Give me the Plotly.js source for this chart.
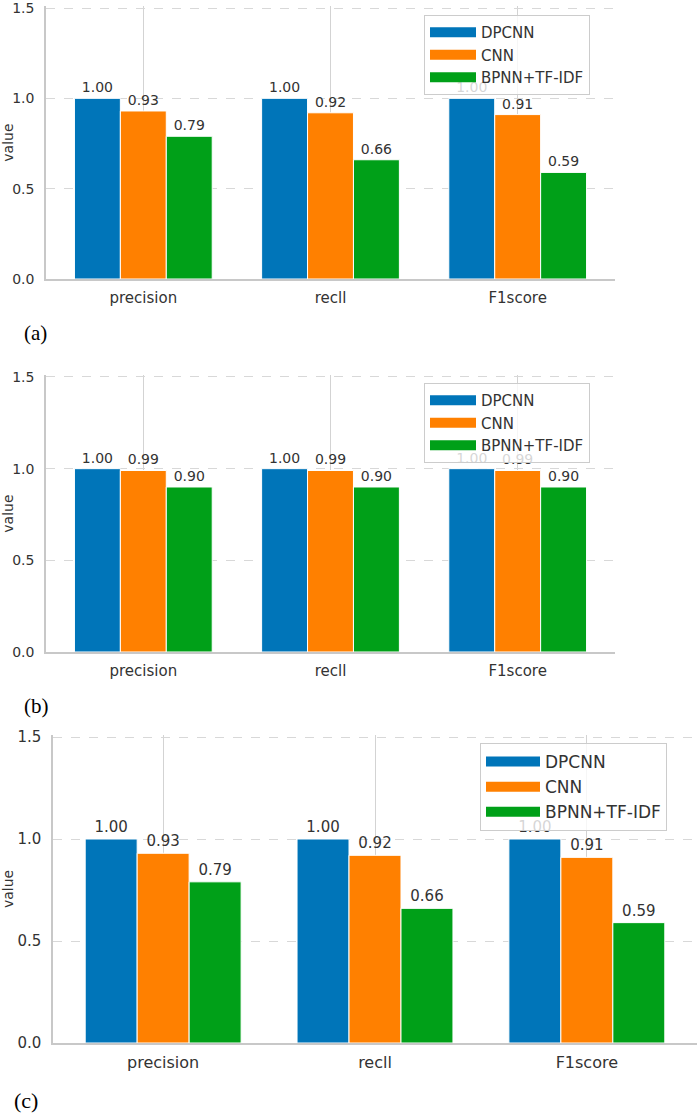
<!DOCTYPE html>
<html>
<head>
<meta charset="utf-8">
<script src="https://cdn.plot.ly/plotly-3.0.1.min.js"></script>
<style>
html,body{margin:0;padding:0;background:#fff;}
#chart{width:699px;height:1114px;}
</style>
</head>
<body>
<div id="chart"></div>
<script>
// ---- data ----
const categories = ["precision", "recll", "F1score"];
const seriesNames = ["DPCNN", "CNN", "BPNN+TF-IDF"];
const seriesColors = ["#0075b9", "#ff8000", "#00a018"];
// panel (a)
const dpcnnA = [1.00, 1.00, 1.00];
const cnnA   = [0.93, 0.92, 0.91];
const bpnnA  = [0.79, 0.66, 0.59];
// panel (b)
const dpcnnB = [1.00, 1.00, 1.00];
const cnnB   = [0.99, 0.99, 0.99];
const bpnnB  = [0.90, 0.90, 0.90];
// panel (c)
const dpcnnC = [1.00, 1.00, 1.00];
const cnnC   = [0.93, 0.92, 0.91];
const bpnnC  = [0.79, 0.66, 0.59];
const yTickVals = [0.0, 0.5, 1.0, 1.5];
const yTickText = ["0.0", "0.5", "1.0", "1.5"];
const panelLabels = ["(a)", "(b)", "(c)"];

const FONT = "DejaVu Sans, Liberation Sans, Arial, sans-serif";
const SERIF = "Liberation Serif, Times New Roman, serif";
const TXT = "#333333";
const H = 1114, W = 699;
const Y_MAX = 1.51;   // a hair above 1.5 so the top grid line is drawn

const panels = [
  {vals: [dpcnnA, cnnA, bpnnA], ax: "", legend: "legend", lab: 14},
  {vals: [dpcnnB, cnnB, bpnnB], ax: "2", legend: "legend2", lab: 14},
  {vals: [dpcnnC, cnnC, bpnnC], ax: "3", legend: "legend3", lab: 15}
];

const traces = [];
panels.forEach((p, pi) => {
  p.vals.forEach((v, si) => {
    traces.push({
      type: "bar",
      x: categories,
      y: v,
      name: seriesNames[si],
      xaxis: "x" + p.ax,
      yaxis: "y" + p.ax,
      marker: {color: seriesColors[si], line: {color: "#ffffff", width: 1}},
      text: v.map(d => d.toFixed(2)),
      textposition: "outside",
      constraintext: "none",
      cliponaxis: false,
      outsidetextfont: {family: FONT, size: p.lab, color: TXT},
      showlegend: false,
      hoverinfo: "x+y+name"
    });
  });
  // legend entries drawn as wide patches like the reference
  seriesNames.forEach((n, si) => {
    traces.push({
      type: "scatter",
      mode: "lines",
      x: [null],
      y: [null],
      name: n,
      xaxis: "x" + p.ax,
      yaxis: "y" + p.ax,
      line: {color: seriesColors[si], width: 10},
      legend: p.legend,
      showlegend: true,
      hoverinfo: "skip"
    });
  });
});

// pixel geometry -> paper domains
function yDomain(pix0, pix15) {
  const perUnit = (pix0 - pix15) / 1.5;
  const top = pix0 - Y_MAX * perUnit;
  return [1 - pix0 / H, 1 - top / H];
}

function xax(domain, anchor, fs) {
  return {
    domain: domain,
    anchor: anchor,
    type: "category",
    range: [-0.52, 2.52],
    showgrid: true,
    gridcolor: "#d3d3d3",
    gridwidth: 1,
    showline: true,
    linecolor: "#c8c8c8",
    linewidth: 1.5,
    ticks: "",
    ticklabelstandoff: 4,
    tickfont: {family: FONT, size: fs, color: TXT},
    zeroline: false,
    fixedrange: true
  };
}
function yax(domain, anchor, fs) {
  return {
    domain: domain,
    anchor: anchor,
    range: [0, Y_MAX],
    tickmode: "array",
    tickvals: yTickVals,
    ticktext: yTickText,
    showgrid: true,
    gridcolor: "#d8d8d8",
    griddash: "dash",
    gridwidth: 1,
    showline: true,
    linecolor: "#c8c8c8",
    linewidth: 1.5,
    zeroline: false,
    ticks: "",
    ticklabelstandoff: 7,
    ticklabeloverflow: "allow",
    tickfont: {family: FONT, size: fs, color: TXT},
    title: {text: "value", font: {family: FONT, size: 14, color: TXT}, standoff: 0},
    fixedrange: true
  };
}

const legendBase = {
  bgcolor: "rgba(255,255,255,0.8)",
  bordercolor: "#cccccc",
  borderwidth: 1,
  xanchor: "left",
  yanchor: "top",
  tracegroupgap: 0,
  itemclick: false,
  itemdoubleclick: false
};

const layout = {
  width: W,
  height: H,
  margin: {l: 0, r: 0, t: 0, b: 0},
  paper_bgcolor: "#ffffff",
  plot_bgcolor: "#ffffff",
  barmode: "group",
  bargap: 0.264,
  bargroupgap: 0,
  xaxis:  xax([46/W, 615/W], "y", 15),
  yaxis:  yax(yDomain(279, 8), "x", 14),
  xaxis2: xax([46/W, 615/W], "y2", 15),
  yaxis2: yax(yDomain(652, 377), "x2", 14),
  xaxis3: xax([53/W, 697/W], "y3", 16),
  yaxis3: yax(yDomain(1043, 737), "x3", 15),
  legend:  Object.assign({}, legendBase, {x: 424/W, y: 1-15/H, itemwidth: 46, font: {family: FONT, size: 15, color: TXT}}),
  legend2: Object.assign({}, legendBase, {x: 424/W, y: 1-383/H, itemwidth: 46, font: {family: FONT, size: 15, color: TXT}}),
  legend3: Object.assign({}, legendBase, {x: 480/W, y: 1-743/H, itemwidth: 54, font: {family: FONT, size: 17, color: TXT}}),
  annotations: [
    {text: panelLabels[0], xref: "paper", yref: "paper", x: 22/W, y: 1-333/H, xanchor: "left", yanchor: "middle", showarrow: false, font: {family: SERIF, size: 21, color: "#000"}},
    {text: panelLabels[1], xref: "paper", yref: "paper", x: 22/W, y: 1-706/H, xanchor: "left", yanchor: "middle", showarrow: false, font: {family: SERIF, size: 21, color: "#000"}},
    {text: panelLabels[2], xref: "paper", yref: "paper", x: 12/W, y: 1-1100/H, xanchor: "left", yanchor: "middle", showarrow: false, font: {family: SERIF, size: 22, color: "#000"}}
  ]
};

Plotly.newPlot("chart", traces, layout, {displayModeBar: false});
</script>
</body>
</html>
